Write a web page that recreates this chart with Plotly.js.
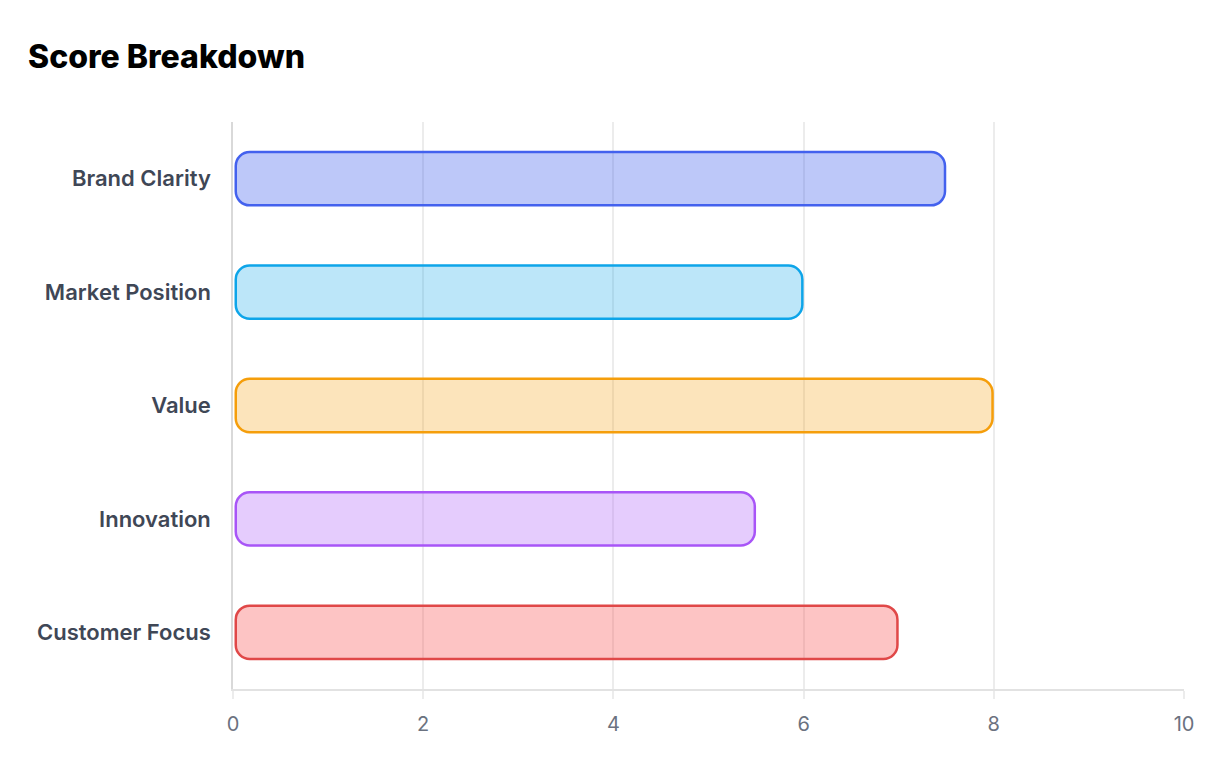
<!DOCTYPE html>
<html>
<head>
<meta charset="utf-8">
<script src="https://cdn.plot.ly/plotly-3.0.1.min.js"></script>
<style>
  html, body { margin: 0; padding: 0; background: #fff; }
  #chart { width: 1232px; height: 782px; }
</style>
</head>
<body>
<div id="chart"></div>
<script>
/* Score Breakdown – horizontal bars with fully rounded ends */

// data
const categories = ['Brand Clarity', 'Market Position', 'Value', 'Innovation', 'Customer Focus'];
const scores = [7.5, 6, 8, 5.5, 7];
const borderColors = ['#4361ee', '#0ea5e9', '#f59e0b', '#a855f7', '#e04848'];
const fillColors = ['rgba(67,97,238,0.35)', 'rgba(14,165,233,0.28)', 'rgba(245,158,11,0.28)',
  'rgba(168,85,247,0.3)', 'rgba(248,72,72,0.32)'];
const xTicks = [0, 2, 4, 6, 8, 10];

// layout numbers
const W = 1232, H = 782;
const M = { l: 233, r: 48, t: 122, b: 93 };
const X_RANGE = [0, 10];
const Y_RANGE = [categories.length - 0.5, -0.5];
const BAR_FRAC = 0.47;     // bar thickness as share of a category band
const RADIUS_PX = 14;
const LINE_W = 2.5;

const pxX = (W - M.l - M.r) / (X_RANGE[1] - X_RANGE[0]);
const pxY = (H - M.t - M.b) / categories.length;

// rounded rectangle path in data coords (cubic corners)
function roundedBar(i, v) {
  const k = 0.5523;
  const inset = (LINE_W / 2) / pxX;
  const x0 = inset + 1.5 / pxX, x1 = v - inset;
  const yT = i - BAR_FRAC / 2, yB = i + BAR_FRAC / 2;
  const rx = RADIUS_PX / pxX, ry = RADIUS_PX / pxY;
  const p = [
    `M${x0 + rx},${yT}`,
    `L${x1 - rx},${yT}`,
    `C${x1 - rx + rx * k},${yT} ${x1},${yT + ry - ry * k} ${x1},${yT + ry}`,
    `L${x1},${yB - ry}`,
    `C${x1},${yB - ry + ry * k} ${x1 - rx + rx * k},${yB} ${x1 - rx},${yB}`,
    `L${x0 + rx},${yB}`,
    `C${x0 + rx - rx * k},${yB} ${x0},${yB - ry + ry * k} ${x0},${yB - ry}`,
    `L${x0},${yT + ry}`,
    `C${x0},${yT + ry - ry * k} ${x0 + rx - rx * k},${yT} ${x0 + rx},${yT}`,
    'Z'
  ];
  return p.join(' ');
}

const shapes = scores.map((v, i) => ({
  type: 'path', xref: 'x', yref: 'y', layer: 'above',
  path: roundedBar(i, v),
  fillcolor: fillColors[i],
  line: { color: borderColors[i], width: LINE_W }
}));

// invisible bar trace: sets up the category axis and hover
const trace = {
  type: 'bar', orientation: 'h',
  x: scores, y: categories,
  width: BAR_FRAC,
  marker: { color: 'rgba(0,0,0,0)' },
  hovertemplate: '%{y}: %{x}<extra></extra>'
};

const layout = {
  width: W, height: H,
  margin: M,
  paper_bgcolor: '#ffffff', plot_bgcolor: '#ffffff',
  font: { family: 'Inter, "Noto Sans", sans-serif' },
  title: {
    text: 'Score Breakdown',
    font: { family: 'Inter, sans-serif', size: 32, weight: 800, color: '#000000' },
    xref: 'container', yref: 'container',
    x: 28 / W, xanchor: 'left',
    y: 1 - 57 / H, yanchor: 'middle'
  },
  xaxis: {
    range: X_RANGE,
    tickvals: xTicks,
    ticktext: xTicks.map(String),
    showgrid: true, gridcolor: '#ececec', gridwidth: 1.5,
    zeroline: false,
    showline: true, linecolor: '#e2e2e2', linewidth: 1.5,
    ticks: 'outside', ticklen: 8, tickcolor: '#ececec', tickwidth: 1.5,
    ticklabelstandoff: 8,
    tickfont: { size: 20, color: '#6b7280' },
    fixedrange: true
  },
  yaxis: {
    type: 'category',
    range: Y_RANGE,
    showgrid: false, zeroline: false,
    showline: true, linecolor: '#d9d9d9', linewidth: 1.5,
    ticks: '', ticklabelstandoff: 16,
    tickfont: { size: 22, weight: 600, color: '#3f4756' },
    fixedrange: true
  },
  shapes: shapes,
  showlegend: false
};

Plotly.newPlot('chart', [trace], layout, { displayModeBar: false, responsive: false });
</script>
</body>
</html>
